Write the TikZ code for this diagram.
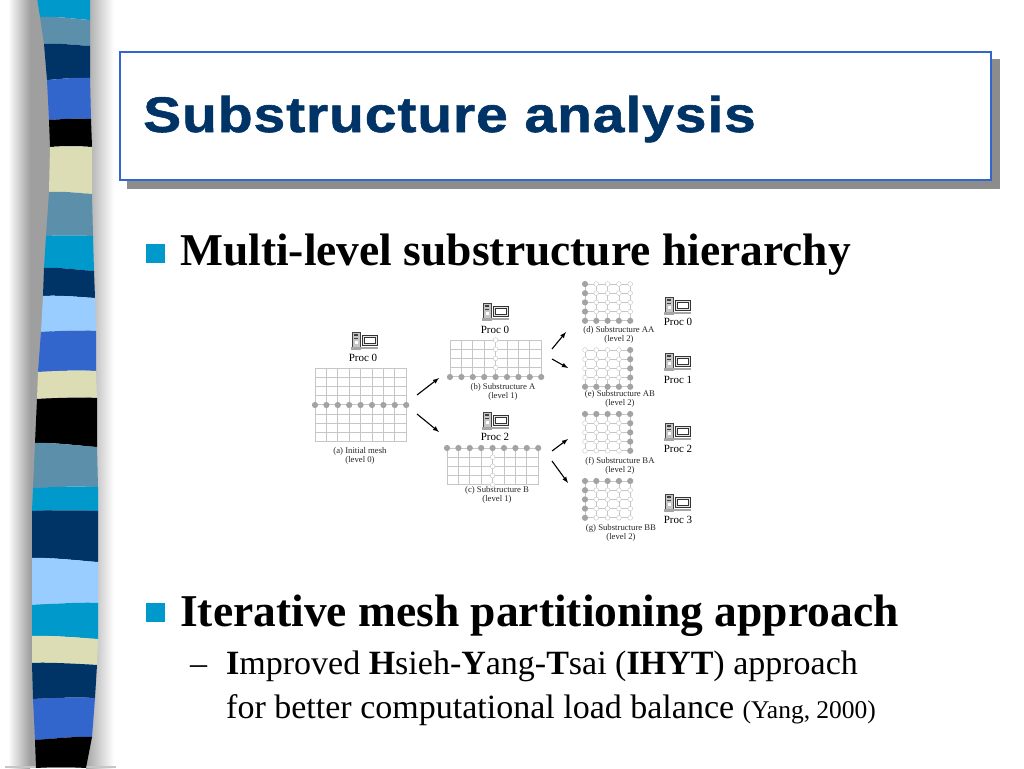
\documentclass[tikz,border=0pt]{standalone}
\usepackage{fontspec}
\setmainfont{Liberation Serif}
\newfontfamily\titlefont[BoldFeatures={FakeStretch=1.14,LetterSpace=1.8,FakeBold=1.2}]{Liberation Sans}
\definecolor{navyband}{HTML}{003366}
\definecolor{blueband}{HTML}{3366CC}
\definecolor{cyanband}{HTML}{0099CC}
\definecolor{steelband}{HTML}{5C8FAA}
\definecolor{creamband}{HTML}{DDDDB5}
\definecolor{lightband}{HTML}{99CCFF}
\definecolor{meshgray}{HTML}{C6C6C6}
\definecolor{dotgray}{HTML}{A3A3A3}
% one band of the strip: colour, then top left, top right, bottom left, bottom right
\newcommand{\band}[9]{\fill[#1] (#2,#3) .. controls (#2+15,#3-1) and (#4-15,#5-1) .. (#4,#5) -- (#8,#9) .. controls (#8-15,#9-1) and (#6+15,#7-1) .. (#6,#7) -- cycle;}
% mesh with nx x ny cells, spacing in px
\newcommand{\meshgrid}[4]{%
    \foreach \i in {0,...,#3}{\draw[meshline] (#1+\i*11.4,#2) -- (#1+\i*11.4,#2+#4*9.2);}
    \foreach \j in {0,...,#4}{\draw[meshline] (#1,#2+\j*9.2) -- (#1+#3*11.4,#2+\j*9.2);}
}
% level 2 mesh: name, x, y, filled column, filled row
\newcommand{\levelmesh}[5]{%
    \foreach \i in {0,...,4}{\draw[meshline] (#2+\i*11.3,#3) -- (#2+\i*11.3,#3+36.8);}
    \foreach \j in {0,...,4}{\draw[meshline] (#2,#3+\j*9.2) -- (#2+45.2,#3+\j*9.2);}
    \foreach \i in {0,...,4}{
        \foreach \j in {0,...,4}{
            \ifnum\i=#4 \node[soliddot] (#1-\i-\j) at (#2+\i*11.3,#3+\j*9.2) {};
            \else\ifnum\j=#5 \node[soliddot] (#1-\i-\j) at (#2+\i*11.3,#3+\j*9.2) {};
            \else \node[opendot] (#1-\i-\j) at (#2+\i*11.3,#3+\j*9.2) {};
            \fi\fi
        }
    }
}
\begin{document}
\begin{tikzpicture}[
                    x = 1pt,
                    y = -1pt,
                    > = latex,
             meshline/.style = {draw=meshgray, line width=0.7pt},
             soliddot/.style = {circle, fill=dotgray, draw=none, minimum size=6.2pt, inner sep=0pt},
              opendot/.style = {circle, fill=white, draw=meshgray, line width=0.4pt, minimum size=4.8pt, inner sep=0pt},
               caption/.style = {align=center, font=\fontsize{8.7}{9}\selectfont, text=black!85},
             proclabel/.style = {font=\fontsize{11}{12}\selectfont},
              splitarrow/.style = {->, line width=1.1pt},
              bulletbox/.style = {rectangle, fill=cyanband, minimum size=19pt, inner sep=0pt},
              headtext/.style = {anchor=base west, font=\fontsize{45.5}{48}\bfseries\selectfont},
              subtext/.style = {anchor=base west, font=\fontsize{34}{38}\selectfont},
              computer/.pic = {
                  \draw[black!75, line width=0.5pt, fill=gray!45] (0,0) rectangle (8,15);
                  \fill[black!75] (2,2) rectangle (6,3.5);
                  \fill[black!75] (2,5.5) rectangle (6,6.5);
                  \fill[white] (2.5,9) rectangle (5.5,12);
                  \fill[gray!70] (-1,15) rectangle (9,17.5);
                  \draw[black!80, line width=0.6pt, fill=gray!20] (10,3) rectangle (25.5,13);
                  \draw[black!80, line width=0.4pt, fill=white] (12,5) rectangle (23.5,11);
                  \fill[gray!70] (9,15) rectangle (26,17);
              },
            ]

    \useasboundingbox (0,0) rectangle (1024,768);
    \fill[white] (0,0) rectangle (1024,768);

    % shadow of the strip
    \shade[left color=white, right color=gray!75] (8,0) rectangle (30,768);
    \fill[gray!75] (30,0) rectangle (52,768);
    \shade[left color=gray!70, right color=white] (86,0) rectangle (114,768);
    \fill[gray!45] (5,766) rectangle (116,768);

    % strip
    \band{cyanband}{37}{-2}{90}{-2}{40}{17}{90}{20}
    \band{steelband}{40}{17}{90}{20}{44}{44}{90}{46}
    \band{navyband}{44}{44}{90}{46}{47}{80}{90}{78}
    \band{blueband}{47}{80}{90}{78}{49}{120}{91}{119}
    \band{black}{49}{120}{91}{119}{50}{147}{92}{147}
    \band{creamband}{50}{147}{92}{147}{49}{192}{92}{194}
    \band{steelband}{49}{192}{92}{194}{46}{236}{93}{236}
    \band{cyanband}{46}{236}{93}{236}{44}{268}{94}{271}
    \band{navyband}{44}{268}{94}{271}{43}{296}{95}{298}
    \band{lightband}{43}{296}{95}{298}{41}{332}{96}{331}
    \band{blueband}{41}{332}{96}{331}{38}{372}{96}{371}
    \band{creamband}{38}{372}{96}{371}{37}{399}{97}{398}
    \band{black}{37}{399}{97}{398}{35}{443}{97}{447}
    \band{steelband}{35}{443}{97}{447}{33}{488}{98}{487}
    \band{cyanband}{33}{488}{98}{487}{32}{511}{98}{511}
    \band{navyband}{32}{511}{98}{511}{32}{558}{98}{562}
    \band{lightband}{32}{558}{98}{562}{32}{605}{98}{603}
    \band{cyanband}{32}{605}{98}{603}{32}{636}{98}{639}
    \band{creamband}{32}{636}{98}{639}{32}{663}{97}{665}
    \band{navyband}{32}{663}{97}{665}{33}{699}{95}{698}
    \band{blueband}{33}{699}{95}{698}{35}{740}{92}{737}
    \band{black}{35}{740}{92}{737}{36}{768}{86}{768}

    % title
    \fill[gray!90] (127,59) rectangle (1000,189);
    \node[rectangle, draw=blueband, fill=white, line width=2pt, minimum width=871pt, minimum height=128pt, inner sep=0pt, anchor=north west] (titlebox) at (119,51) {};
    \node[anchor=base west, text=navyband, inner sep=0pt, font=\titlefont\fontsize{50}{54}\bfseries\selectfont] (title) at (143,132) {Substructure analysis};

    % text
    \node[bulletbox] (bulletA) at (155,253) {};
    \node[headtext, inner sep=0pt] (headA) at (180,265) {Multi-level substructure hierarchy};
    \node[bulletbox] (bulletB) at (155,612) {};
    \node[headtext, inner sep=0pt] (headB) at (180,626) {Iterative mesh partitioning approach};
    \node[subtext, inner sep=0pt] (dash) at (190,674) {--};
    \node[subtext, inner sep=0pt] (subA) at (226,674) {\textbf{I}mproved \textbf{H}sieh-\textbf{Y}ang-\textbf{T}sai (\textbf{IHYT}) approach};
    \node[subtext, inner sep=0pt] (subB) at (226,718) {for better computational load balance {\fontsize{25.5}{28}\selectfont (Yang, 2000)}};

    % level 0
    \meshgrid{315}{368}{8}{8}
    \foreach \i in {0,...,8}{\node[soliddot] (a-\i) at (315+\i*11.4,405) {};}
    \pic at (352,332) {computer};
    \node[proclabel] (proca) at (363,358) {Proc 0};
    \node[caption] (capa) at (360,455.5) {(a) Initial mesh\\(level 0)};

    % level 1
    \meshgrid{450}{340}{8}{4}
    \foreach \j in {0,...,3}{\node[opendot] (b-\j) at (495.6,340+\j*9.2) {};}
    \foreach \i in {0,...,8}{\node[soliddot] (bb-\i) at (450+\i*11.4,377) {};}
    \pic at (483,303) {computer};
    \node[proclabel] (procb) at (495,330) {Proc 0};
    \node[caption] (capb) at (503,392) {(b) Substructure A\\(level 1)};

    \meshgrid{447}{448}{8}{4}
    \foreach \j in {1,...,4}{\node[opendot] (c-\j) at (492.6,448+\j*9.2) {};}
    \foreach \i in {0,...,8}{\node[soliddot] (cc-\i) at (447+\i*11.4,448) {};}
    \pic at (483,412) {computer};
    \node[proclabel] (procc) at (495,437) {Proc 2};
    \node[caption] (capc) at (497,495) {(c) Substructure B\\(level 1)};

    % level 2
    \levelmesh{d}{585}{284}{0}{4}
    \node[caption] (capd) at (619,335) {(d) Substructure AA\\(level 2)};
    \levelmesh{e}{585}{350}{4}{4}
    \node[caption] (cape) at (620,399) {(e) Substructure AB\\(level 2)};
    \levelmesh{f}{585}{414}{4}{0}
    \node[caption] (capf) at (620,466) {(f) Substructure BA\\(level 2)};
    \levelmesh{g}{585}{481}{0}{0}
    \node[caption] (capg) at (621,533) {(g) Substructure BB\\(level 2)};

    \pic at (665,297) {computer};
    \node[proclabel] (procd) at (678,322) {Proc 0};
    \pic at (665,353) {computer};
    \node[proclabel] (proce) at (678,380) {Proc 1};
    \pic at (665,423) {computer};
    \node[proclabel] (procf) at (678,449) {Proc 2};
    \pic at (665,494) {computer};
    \node[proclabel] (procg) at (678,520) {Proc 3};

    % arrows
    \coordinate (a0) at (417,395);
    \coordinate (a1) at (439,378);
    \coordinate (a2) at (417,414);
    \coordinate (a3) at (439,432);
    \coordinate (b0) at (552,349);
    \coordinate (b1) at (566,332);
    \coordinate (b2) at (552,359);
    \coordinate (b3) at (568,368);
    \coordinate (c0) at (552,451);
    \coordinate (c1) at (568,439);
    \coordinate (c2) at (552,461);
    \coordinate (c3) at (568,483);
    \draw[splitarrow] (a0) -- (a1);
    \draw[splitarrow] (a2) -- (a3);
    \draw[splitarrow] (b0) -- (b1);
    \draw[splitarrow] (b2) -- (b3);
    \draw[splitarrow] (c0) -- (c1);
    \draw[splitarrow] (c2) -- (c3);
\end{tikzpicture}
\end{document}
